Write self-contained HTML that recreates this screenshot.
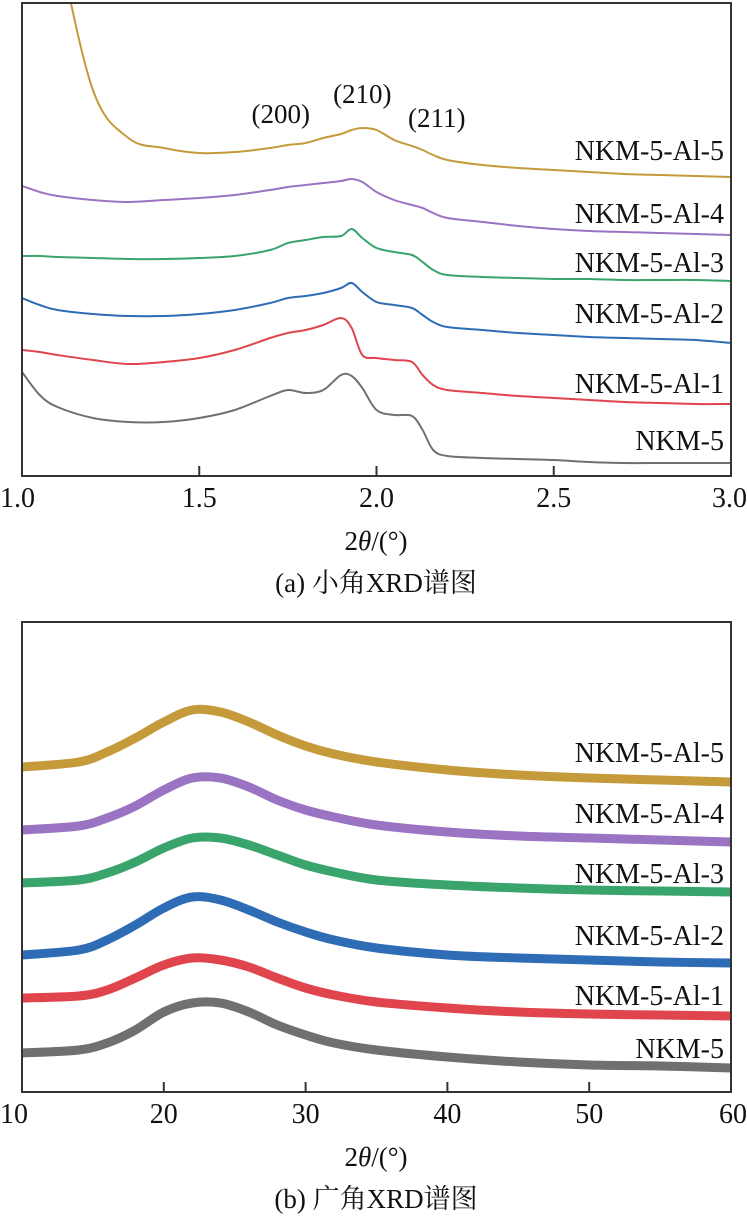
<!DOCTYPE html>
<html><head><meta charset="utf-8"><style>
html,body{margin:0;padding:0;background:#fff;}
svg{display:block;font-family:"Liberation Serif","Noto Serif CJK SC",serif;}
</style></head><body>
<svg id="s" width="747" height="1221" viewBox="0 0 747 1221" xmlns="http://www.w3.org/2000/svg">
<g id="topchart"></g>
<g id="botchart"></g>
</svg>
<script>
// ---- small angle data (intensity = arbitrary units, bottom of plot = 0) ----
const saX = [1.0,1.05,1.1,1.2,1.3,1.4,1.5,1.6,1.7,1.75,1.8,1.85,1.9,1.93,1.96,2.0,2.05,2.1,2.13,2.16,2.2,2.3,2.4,2.5,2.6,2.7,2.8,2.9,3.0];
const saNKM5 = [104,81,69,58,54,54,58,66,80,86,83,86,101,100,88,66,61,60,46,26,20,18,17,16,14,13,13,13,13];
const saAl1  = [126,124,121,116,112,114,118,126,138,143,146,151,158,148,121,118,116,114,101,91,86,83,80,78,76,74,73,72,72];
const saAl2  = [178,171,166,162,160,160,162,166,173,178,180,183,188,193,184,174,171,168,161,154,149,146,143,141,139,138,137,136,133];
const saAl3  = [220,220,219,218,217,217,218,220,226,233,236,239,240,247,238,228,224,221,214,206,201,199,198,197,197,196,196,196,195];
const saAl4  = [290,284,280,276,274,276,278,281,286,289,291,293,295,297,294,284,276,271,268,263,258,254,250,247,245,244,243,242,241];
const saAl5  = [776,626,536,386,338,328,323,324,328,331,333,338,342,346,348,346,336,330,326,321,316,311,308,306,304,302,301,300,299];
const saTicks = [1.0,1.5,2.0,2.5,3.0];
const saTickLabels = ["1.0","1.5","2.0","2.5","3.0"];
const saNames = ["NKM-5","NKM-5-Al-1","NKM-5-Al-2","NKM-5-Al-3","NKM-5-Al-4","NKM-5-Al-5"];
const saPeakNames = ["(200)","(210)","(211)"];
const saPeakX = [1.73,1.96,2.17];
const saPeakI = [353,373,349];
// ---- wide angle data ----
const waX = [10,14,16,18,20,22,24,26,28,30,32,35,40,45,50,55,60];
const waNKM5 = [39,42,49,62,80,89,89,80,67,57,49,42,35,30,27,26,24];
const waAl1  = [94,96,102,114,127,134,132,125,114,104,97,90,84,80,78,77,76];
const waAl2  = [137,142,152,167,184,195,192,182,170,160,152,144,137,134,132,130,129];
const waAl3  = [209,212,219,230,244,254,254,247,237,227,220,212,207,204,202,201,200];
const waAl4  = [262,266,274,286,302,314,314,305,292,282,275,267,260,256,254,252,250];
const waAl5  = [325,330,340,354,370,382,380,370,357,346,338,330,322,317,314,312,310];
const waTicks = [10,20,30,40,50,60];
const waTickLabels = ["10","20","30","40","50","60"];
const colors = ["#707070","#e0454d","#2e6cb6","#3aa46d","#9a73c2","#c59a3b"];
const labelY1 = [450,393,323,272,223,160];
const labelY2 = [1058,1005,945,883,823,762];

const NS="http://www.w3.org/2000/svg";
function mk(p,t,a){const e=document.createElementNS(NS,t);for(const k in a)e.setAttribute(k,a[k]);p.appendChild(e);return e;}
function smoothPath(pts){
  let d='M'+pts[0][0].toFixed(1)+' '+pts[0][1].toFixed(1);
  for(let i=0;i<pts.length-1;i++){
    const p0=pts[Math.max(0,i-1)],p1=pts[i],p2=pts[i+1],p3=pts[Math.min(pts.length-1,i+2)];
    const c1x=p1[0]+(p2[0]-p0[0])/6,c1y=p1[1]+(p2[1]-p0[1])/6;
    const c2x=p2[0]-(p3[0]-p1[0])/6,c2y=p2[1]-(p3[1]-p1[1])/6;
    d+=' C'+c1x.toFixed(1)+' '+c1y.toFixed(1)+' '+c2x.toFixed(1)+' '+c2y.toFixed(1)+' '+p2[0].toFixed(1)+' '+p2[1].toFixed(1);
  }
  return d;
}
function drawChart(g,cfg){
  const L=22,R=731,T=cfg.top,B=cfg.bottom;
  const xs=v=>L+(v-cfg.x0)/(cfg.x1-cfg.x0)*(R-L);
  const ys=v=>B-v;
  const cid='clip'+cfg.id;
  const cp=mk(mk(g,'defs',{}),'clipPath',{id:cid});
  mk(cp,'rect',{x:L,y:T,width:R-L,height:B-T});
  cfg.series.forEach((s,i)=>{
    const d=smoothPath(s.map((v,j)=>[xs(cfg.xv[j]),ys(v)]));
    const p=mk(g,'path',{d:d,fill:'none',stroke:colors[i],'stroke-width':cfg.sw,'stroke-linejoin':'round','clip-path':'url(#'+cid+')'});
    
    
    const t=mk(g,'text',{x:724,y:cfg.ly[i],'text-anchor':'end','font-size':28,fill:'#111'});
    t.textContent=cfg.names[i];
    
    
  });
  const box=mk(g,'rect',{x:L,y:T,width:R-L,height:B-T,fill:'none',stroke:'#333','stroke-width':2});
  
  
  cfg.ticks.forEach((v,i)=>{
    const tk=mk(g,'line',{x1:xs(v),x2:xs(v),y1:B,y2:B-10,stroke:'#333','stroke-width':2});
    
    
    const anchor=i===0?'start':(i===cfg.ticks.length-1?'end':'middle');
    const tl=mk(g,'text',{x:xs(v)+(i===0?-22:(i===cfg.ticks.length-1?16:0)),y:B+31,'text-anchor':anchor,'font-size':28,fill:'#111'});
    tl.textContent=cfg.tickLabels[i];
    
    
  });
  const xt=mk(g,'text',{x:376,y:B+74,'text-anchor':'middle','font-size':27,fill:'#111'});
  xt.innerHTML='2<tspan font-style="italic">θ</tspan>/(°)';
  
  
  const cap=mk(g,'text',{x:376,y:B+116,'text-anchor':'middle','font-size':27,fill:'#111'});
  cap.textContent=cfg.caption;
  
  
  return {xs,ys};
}
const topG=document.getElementById('topchart');
const axA=drawChart(topG,{id:1,top:3,bottom:476,x0:1,x1:3,xv:saX,series:[saNKM5,saAl1,saAl2,saAl3,saAl4,saAl5],sw:2,ly:labelY1,names:saNames,ticks:saTicks,tickLabels:saTickLabels,caption:'(a) 小角XRD谱图'});
saPeakNames.forEach((n,i)=>{
  const t=mk(topG,'text',{x:axA.xs(saPeakX[i]),y:axA.ys(saPeakI[i]),'text-anchor':'middle','font-size':27,fill:'#111'});
  t.textContent=n;
  
  
});
drawChart(document.getElementById('botchart'),{id:2,top:622,bottom:1092,x0:10,x1:60,xv:waX,series:[waNKM5,waAl1,waAl2,waAl3,waAl4,waAl5],sw:9,ly:labelY2,names:saNames,ticks:waTicks,tickLabels:waTickLabels,caption:'(b) 广角XRD谱图'});
</script>
</body></html>
